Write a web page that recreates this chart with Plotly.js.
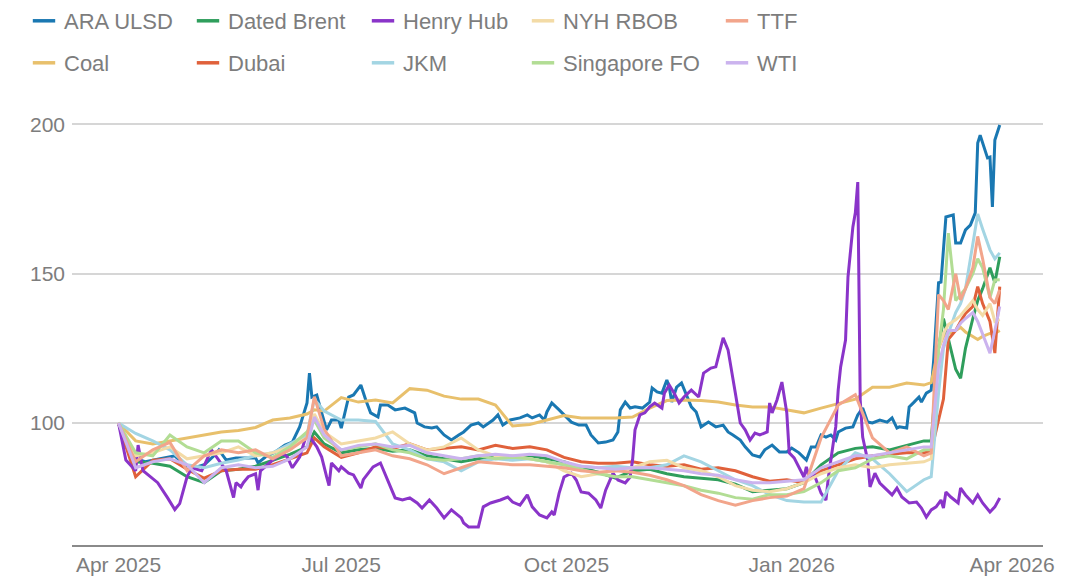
<!DOCTYPE html>
<html>
<head>
<meta charset="utf-8">
<script src="https://cdn.plot.ly/plotly-3.0.1.min.js"></script>
<style>html,body{margin:0;padding:0;background:#fff}#chart{width:1084px;height:578px}</style>
</head>
<body>
<div id="chart"></div>
<script>
// ---------- DATA ----------
const seriesNames = ['ARA ULSD','Coal','Dated Brent','Dubai','Henry Hub','JKM','NYH RBOB','Singapore FO','TTF','WTI'];

const gridDates = ['2025-04-01','2025-04-08','2025-04-15','2025-04-22','2025-04-29','2025-05-06','2025-05-13','2025-05-20','2025-05-27','2025-06-03','2025-06-10','2025-06-17','2025-06-20','2025-06-24','2025-07-01','2025-07-08','2025-07-15','2025-07-22','2025-07-29','2025-08-05','2025-08-12','2025-08-19','2025-08-26','2025-09-02','2025-09-09','2025-09-16','2025-09-23','2025-09-30','2025-10-07','2025-10-14','2025-10-21','2025-10-28','2025-11-04','2025-11-11','2025-11-18','2025-11-25','2025-12-02','2025-12-09','2025-12-16','2025-12-23','2025-12-30','2026-01-06','2026-01-13','2026-01-20','2026-01-27','2026-02-03','2026-02-10','2026-02-17','2026-02-24','2026-02-27','2026-03-02','2026-03-04','2026-03-06','2026-03-09','2026-03-11','2026-03-13','2026-03-16','2026-03-18','2026-03-20','2026-03-23','2026-03-25','2026-03-27'];

const araDates = ['2025-04-01','2025-04-04','2025-04-08','2025-04-12','2025-04-18','2025-04-24','2025-04-28','2025-05-02','2025-05-06','2025-05-10','2025-05-12','2025-05-15','2025-05-19','2025-05-23','2025-05-27','2025-05-28','2025-05-31','2025-06-04','2025-06-08','2025-06-11','2025-06-14','2025-06-17','2025-06-18','2025-06-19','2025-06-21','2025-06-23','2025-06-25','2025-06-27','2025-06-30','2025-07-01','2025-07-04','2025-07-06','2025-07-09','2025-07-11','2025-07-13','2025-07-16','2025-07-17','2025-07-20','2025-07-23','2025-07-27','2025-07-31','2025-08-01','2025-08-04','2025-08-07','2025-08-09','2025-08-12','2025-08-15','2025-08-18','2025-08-20','2025-08-23','2025-08-26','2025-08-28','2025-09-01','2025-09-03','2025-09-05','2025-09-08','2025-09-12','2025-09-15','2025-09-17','2025-09-20','2025-09-22','2025-09-23','2025-09-25','2025-09-28','2025-10-01','2025-10-03','2025-10-06','2025-10-09','2025-10-11','2025-10-14','2025-10-17','2025-10-20','2025-10-22','2025-10-23','2025-10-25','2025-10-27','2025-10-29','2025-11-01','2025-11-04','2025-11-05','2025-11-07','2025-11-09','2025-11-11','2025-11-12','2025-11-13','2025-11-15','2025-11-17','2025-11-19','2025-11-21','2025-11-23','2025-11-25','2025-11-28','2025-12-01','2025-12-04','2025-12-06','2025-12-08','2025-12-11','2025-12-13','2025-12-16','2025-12-19','2025-12-21','2025-12-24','2025-12-27','2025-12-30','2026-01-01','2026-01-04','2026-01-07','2026-01-09','2026-01-11','2026-01-13','2026-01-15','2026-01-17','2026-01-19','2026-01-20','2026-01-23','2026-01-26','2026-01-28','2026-01-30','2026-02-01','2026-02-03','2026-02-06','2026-02-09','2026-02-11','2026-02-13','2026-02-14','2026-02-17','2026-02-18','2026-02-20','2026-02-22','2026-02-23','2026-02-25','2026-02-27','2026-02-28','2026-03-02','2026-03-03','2026-03-05','2026-03-08','2026-03-09','2026-03-11','2026-03-13','2026-03-15','2026-03-17','2026-03-18','2026-03-19','2026-03-21','2026-03-22','2026-03-23','2026-03-24','2026-03-25','2026-03-27'];
const araValues = [100,92,88,87,88,89,86,85,86,89,91,87.6,88.3,88.3,88.3,86.6,88.6,90.3,92.6,93.6,98.7,106.7,116.7,108.7,109.4,103.4,97.7,101,101,98.3,108.7,109.4,112.7,107.7,103.4,102,106,106,104.4,105,103.4,100,98.7,98.3,98.7,96,94.3,96,97,99.3,100,98.7,101,102.7,99.3,101,101.7,102.7,101.7,102.7,101,103.7,106.7,104.4,102,100.3,99.3,99.3,96,93.3,93.6,94.3,97,104.4,107,105,105.4,105,107,111.7,110.4,110,114.4,112,107,112,113.4,109.4,105.4,103.7,98.7,100.3,98.7,99.3,97,96,94.3,92,89.3,88.6,91,92.6,90.3,90.3,91.6,90,87.6,92,92,96,95.3,96,94.3,97,98.3,98.7,102.7,105,100.3,100,101,100.3,101.7,98.3,98.7,98.3,105.4,107,108.7,107,110,111,121,147,147.2,169,169.7,160.3,160.3,164.7,166.3,170.4,193.8,196.4,191.5,188.8,189.1,172.4,194.8,199.8];

const henryDates = ['2025-04-01','2025-04-02','2025-04-04','2025-04-08','2025-04-09','2025-04-11','2025-04-17','2025-04-21','2025-04-24','2025-04-26','2025-04-29','2025-05-01','2025-05-05','2025-05-09','2025-05-11','2025-05-15','2025-05-18','2025-05-19','2025-05-21','2025-05-22','2025-05-24','2025-05-27','2025-05-28','2025-05-29','2025-06-03','2025-06-07','2025-06-09','2025-06-11','2025-06-14','2025-06-17','2025-06-21','2025-06-23','2025-06-25','2025-06-26','2025-06-27','2025-06-30','2025-07-01','2025-07-04','2025-07-06','2025-07-09','2025-07-10','2025-07-14','2025-07-17','2025-07-20','2025-07-23','2025-07-26','2025-07-29','2025-08-01','2025-08-03','2025-08-06','2025-08-09','2025-08-12','2025-08-15','2025-08-19','2025-08-20','2025-08-22','2025-08-26','2025-08-28','2025-08-31','2025-09-04','2025-09-07','2025-09-09','2025-09-12','2025-09-15','2025-09-17','2025-09-20','2025-09-23','2025-09-25','2025-09-26','2025-09-28','2025-09-30','2025-10-03','2025-10-05','2025-10-07','2025-10-10','2025-10-13','2025-10-15','2025-10-17','2025-10-20','2025-10-22','2025-10-25','2025-10-27','2025-10-28','2025-10-29','2025-10-31','2025-11-02','2025-11-04','2025-11-06','2025-11-09','2025-11-10','2025-11-12','2025-11-14','2025-11-16','2025-11-18','2025-11-21','2025-11-24','2025-11-26','2025-11-29','2025-12-01','2025-12-02','2025-12-04','2025-12-06','2025-12-08','2025-12-09','2025-12-11','2025-12-13','2025-12-15','2025-12-17','2025-12-19','2025-12-22','2025-12-23','2025-12-24','2025-12-26','2025-12-28','2025-12-30','2025-12-31','2026-01-02','2026-01-04','2026-01-06','2026-01-07','2026-01-08','2026-01-10','2026-01-13','2026-01-15','2026-01-16','2026-01-18','2026-01-19','2026-01-20','2026-01-21','2026-01-23','2026-01-24','2026-01-26','2026-01-27','2026-01-28','2026-01-29','2026-01-30','2026-02-01','2026-02-02','2026-02-04','2026-02-06','2026-02-09','2026-02-11','2026-02-13','2026-02-15','2026-02-18','2026-02-21','2026-02-23','2026-02-25','2026-02-27','2026-03-01','2026-03-03','2026-03-04','2026-03-05','2026-03-07','2026-03-10','2026-03-11','2026-03-13','2026-03-16','2026-03-18','2026-03-20','2026-03-23','2026-03-25','2026-03-27'];
const henryValues = [100,96,87.6,84,92.6,84,80,75,71,73,82,85,84,91,88.6,84,75,80,78.6,80,82,83,77.5,84,87.6,89.9,88.6,85,88.6,96.6,92,88.6,82,79,86.6,84,85.3,83.2,82.6,78.2,81,85.3,86.6,81,74.9,74.2,74.9,73.2,71.5,74.2,71.5,68.2,70.9,68.2,66.5,65.2,65.2,71.9,73.2,74.2,75.2,73.5,72.5,75.9,71.9,69.2,68.2,70.2,69.2,76.5,81.9,83.2,80.9,76.9,76.5,74.2,71.5,77.5,83.2,80.9,79.9,81.9,87.6,97.7,102.7,103.4,105.4,106.7,105,110,112.7,110,106.7,108.7,111,108.7,116.7,118.4,118.8,122.1,128.5,124.5,115.4,110,100,97.7,94.3,96.6,96,97,106.7,103.4,107.7,113.7,103.4,90,88.3,85.3,81.9,85.3,81.9,83.2,76.5,74.2,81.9,93.3,98.7,111,118.8,127.8,148.9,165.7,170.4,180.7,107.7,95.3,87.6,78.6,83.2,79.9,77.5,75.9,78.2,75.2,73.2,73.5,71.5,68.5,70.9,71.9,74.2,71.5,76.9,75.2,73.2,78.2,75.9,73.2,75.9,73.2,70.2,71.9,74.9];

const coalValues = [100,94,93,94,95,96,97,97.5,98.5,101,101.7,103,104.4,104,108.5,107,107.7,106.7,111.5,111,109,108,108,106,99,99.5,101,102.5,101.7,101.7,101.7,102,105,107.5,107.7,107.5,107,106,105.4,105.4,104.5,103.4,105,106.5,108,112,112,113.4,112.7,113.5,125,129,130,131,132,130.5,129,128,129,130,130,131];
const datedBrentValues = [100,87,86.5,85.5,82,80,84,84.5,85.5,87.5,89.5,92,97,93,90,91,91.5,90.5,91,89,88,87,88,89,88.5,89,88,87,85,83.5,81.5,84,84.5,83,82,81.5,81,79.5,77,77.5,78,80,86,90,91.5,92,91,92.5,94,94,125,135,128,118,115,125,135,141,145,152,147,155.7];
const dubaiValues = [100,82,87.5,88,84.5,81.5,84,84.5,84.5,86,88,90,95,92,88.5,90,92,91.5,93,91,91.5,92,91,92.5,91.5,92,91,88.5,87,86.5,86.5,87,86,85.5,86,84.5,85,84,82,80.5,81,80,84,86,88,89,89.5,90,90,90.5,101,108,128,131,134,136.7,139,145.7,140,134,123.4,145.7];
const jkmValues = [100,96.5,94,91,86,85,86.5,87.6,89,90,93,96,108,104,101,101,100.5,93,91,88,87,84,87,88,87.5,88,87,86,85.5,85,85.5,85,85,86,89,87,84,81,79,76,74,73.5,73.5,84,90,88,83,77,81,82,110,125,130,137,140,145,160,170,165,158,155,157];
const nyhRbobValues = [100,89,90,92,88,89,90,92,89,90,92,95,103,97,93,94,95,97,93,91,92,95,91,89,89,88,87,84,82,83,84,85,87,87.5,85,84,82,79,77.5,77,78,80,83,85,86,85,86,86.5,87,88,125,130,133,134.6,136,138,141,138,136,140,134,134.6];
const singaporeFoValues = [100,90,89,96,92,90,94,94,90,88.5,92,97,101,95,91,92,93,91,90,88,87.5,88,89,88,88.5,88,87,86,84.5,83,82,82,81,80,79,77.5,76.5,75,74.5,76,76,77,80,84,85,88,89,88,91,91,124.5,138,163.6,141,143,145,150,155,152,142,147.9,148];
const ttfValues = [100,87,91,93.5,84,89,91,90,91,88,91,95,108.8,98,89,90,91,89,88,86,83,85,87,86.5,86,86,85.5,85,84,83.5,84,83.5,82.5,81,79,76,74,72.5,74,75,75.5,78,95,106,109.5,95,90,92,89,90,143,141,138,150,141.2,145,152,162.5,155,142,140,144.6];
const wtiValues = [100,85,87,88,86,80,85,86,85,85.5,88,92,102,96,91,92.5,93,92,92.5,90,89,88,89,89.5,89,89.5,89,87,85.5,85,84.5,85,85,84.5,84,83,82.5,81,80,80,80.5,81,85,87,89,89,90,91,92,92,118.9,126,131,131,133.4,135,137,134,130,123.4,131,139];

const tickDates = ['2025-04-01','2025-07-01','2025-10-01','2026-01-01','2026-04-01'];
const tickLabels = ['Apr 2025','Jul 2025','Oct 2025','Jan 2026','Apr 2026'];
const yTickValues = [100,150,200];

// ---------- STYLE ----------
const colors = {
  'ARA ULSD':'#1a78b2','Coal':'#e8c06c','Dated Brent':'#2f9e5c','Dubai':'#e0613b','Henry Hub':'#8a34c9',
  'JKM':'#a3d5e3','NYH RBOB':'#f3dba6','Singapore FO':'#b2dd94','TTF':'#f2a58b','WTI':'#cbb3ee'
};
const seriesData = {
  'ARA ULSD':[araDates, araValues],
  'Coal':[gridDates, coalValues],
  'Dated Brent':[gridDates, datedBrentValues],
  'Dubai':[gridDates, dubaiValues],
  'Henry Hub':[henryDates, henryValues],
  'JKM':[gridDates, jkmValues],
  'NYH RBOB':[gridDates, nyhRbobValues],
  'Singapore FO':[gridDates, singaporeFoValues],
  'TTF':[gridDates, ttfValues],
  'WTI':[gridDates, wtiValues]
};
const FONT = '"Liberation Sans", Arial, Helvetica, sans-serif';
const GRAY = '#7d7d7d';

// legend slots: column text x (px), row y (px)
const legendTextX = [64, 228, 403, 563, 757];
const legendRowY = [21, 63];

const traces = [];
const layout = {
  width:1084, height:578,
  margin:{l:72, r:41, t:100, b:33, autoexpand:false},
  paper_bgcolor:'#ffffff', plot_bgcolor:'#ffffff',
  font:{family:FONT, size:22, color:GRAY},
  showlegend:true,
  xaxis:{
    type:'date', range:['2025-03-13','2026-04-13 16:00'],
    tickvals:tickDates, ticktext:tickLabels, automargin:false,
    showgrid:false, zeroline:false, showline:true, linecolor:'#8a8a8a', linewidth:2,
    ticks:'', ticklabelstandoff:0, tickfont:{family:FONT, size:21, color:GRAY}, fixedrange:true
  },
  yaxis:{
    range:[59.13, 208.2], tickvals:yTickValues, automargin:false,
    showgrid:true, gridcolor:'#d6d6d6', gridwidth:2, zeroline:false, showline:false,
    ticks:'', ticklabelstandoff:6, tickfont:{family:FONT, size:21, color:GRAY}, fixedrange:true
  },
  shapes: tickDates.map(d => ({
    type:'line', layer:'between', xref:'x', yref:'paper', x0:d, x1:d, y0:0, y1:1,
    line:{color:'#ffffff', width:3}
  }))
};

seriesNames.forEach((name, i) => {
  const [xs, ys] = seriesData[name];
  traces.push({
    type:'scatter', mode:'lines', name:name, x:xs, y:ys,
    line:{color:colors[name], width:3}, showlegend:false, hoverinfo:'skip'
  });
});

seriesNames.forEach((name, i) => {
  const key = i === 0 ? 'legend' : 'legend' + (i + 1);
  const col = Math.floor(i / 2), row = i % 2;
  traces.push({
    type:'scatter', mode:'markers', name:name, x:[null], y:[null], legend:key,
    marker:{symbol:'line-ew', size:16, color:colors[name], line:{color:colors[name], width:3.5}},
    showlegend:true, hoverinfo:'skip'
  });
  layout[key] = {
    xref:'container', yref:'container',
    x:(legendTextX[col] - 40) / 1084, xanchor:'left',
    y:1 - legendRowY[row] / 578, yanchor:'middle',
    bgcolor:'rgba(0,0,0,0)', borderwidth:0,
    font:{family:FONT, size:22, color:GRAY}
  };
});

Plotly.newPlot('chart', traces, layout, {staticPlot:true, displayModeBar:false});
</script>
</body>
</html>
